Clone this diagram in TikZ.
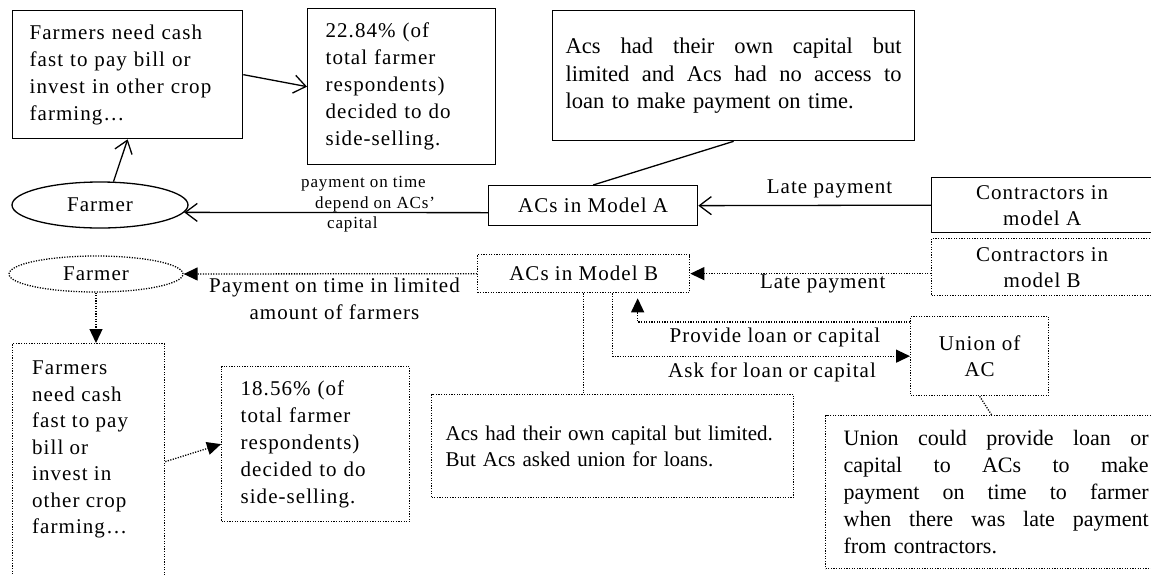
\documentclass[tikz,border=0pt]{standalone}
\usepackage{fontspec}
\setmainfont{Liberation Serif}
\newfontfamily\trk[LetterSpace=5]{Liberation Serif}
\usetikzlibrary{shapes.geometric,arrows.meta,calc}
\newcommand{\jline}[2]{\leavevmode\hbox to #1{\spaceskip=0pt\xspaceskip=0pt\relax #2}}
\begin{document}
\begin{tikzpicture}[x=1pt,y=-1pt,
  sol/.style={draw, line width=1.3pt},
  dotl/.style={draw, line width=1.3pt, dash pattern=on 1.2pt off 1.4pt},
  tk/.style={font=\fontsize{21}{27}\selectfont\trk},
  bx/.style={anchor=north west, inner ysep=0pt, align=left},
  bxc/.style={anchor=north west, inner sep=0pt, align=center},
  oarr/.style={-{Straight Barb[length=12pt,width=18pt]}},
  farr/.style={-{Triangle[length=14pt,width=13pt]}},
]
\useasboundingbox (0,0) rectangle (1151,574);

% ---- Model A ----
\node[sol, bx, tk, minimum width=230pt, minimum height=128pt, text width=196pt, inner xsep=17pt] (n1) at (12,10)
  {Farmers need cash\\fast to pay bill or\\invest in other crop\\farming\ldots};
\node[sol, bx, tk, minimum width=188pt, minimum height=156pt, text width=152pt, inner xsep=18pt] (n2) at (307,8)
  {22.84\% (of\\total farmer\\respondents)\\decided to do\\side-selling.};
\node[sol, bx, font=\fontsize{22.5}{27.5}\selectfont, minimum width=362pt, minimum height=130pt, text width=336pt, inner xsep=13pt] (n3) at (552,10)
  {\jline{336pt}{Acs had their own capital but}\\\jline{336pt}{limited and Acs had no access to}\\loan to make payment on time.};
\node[sol, ellipse, tk, minimum width=176pt, minimum height=46pt, inner sep=0pt] (n4) at (100,205) {Farmer};
\node[sol, bxc, tk, minimum width=209pt, minimum height=40pt] (n5) at (488,185) {ACs in Model A};
\node[sol, bxc, tk, minimum width=221pt, minimum height=55pt, font=\fontsize{21}{26}\selectfont\trk] (n6) at (931,177) {Contractors in\\model A};
\node[anchor=north west, inner sep=0pt, align=left, font=\fontsize{17}{20.5}\selectfont\trk] (n15) at (301,176.5)
  {payment on time\\\hspace*{14pt}depend on ACs’\\\hspace*{26pt}capital};

\draw[sol, oarr] (n1.east) -- (n2.west);
\draw[sol, oarr] (n4.60) -- (n1.south);
\draw[sol, oarr] ($(n5.west)+(0,7)$) -- (n4.-5);
\draw[sol] (n3.south) -- (n5.north);
\draw[sol, oarr] (n6.west) -- node[pos=0.436, above=7pt, inner sep=0pt, tk] {Late payment} (n5.east);

% ---- Model B ----
\node[dotl, bxc, tk, minimum width=221pt, minimum height=57pt, font=\fontsize{21}{26}\selectfont\trk] (n7) at (931,238) {Contractors in\\model B};
\node[dotl, bxc, tk, minimum width=212pt, minimum height=38pt] (n8) at (477,254) {ACs in Model B};
\node[dotl, ellipse, tk, minimum width=174pt, minimum height=36pt, inner sep=0pt] (n9) at (96,274) {Farmer};
\node[dotl, anchor=north west, minimum width=152pt, minimum height=236pt, inner sep=0pt] (n10) at (12,343) {};
\node[anchor=north west, inner sep=0pt, align=left, font=\fontsize{21}{26.5}\selectfont\trk] (n10t) at (32,361)
  {Farmers\\need cash\\fast to pay\\bill or\\invest in\\other crop\\farming\ldots};
\node[dotl, bx, tk, minimum width=188pt, minimum height=155pt, text width=150pt, inner xsep=19pt] (n11) at (221,366)
  {18.56\% (of\\total farmer\\respondents)\\decided to do\\side-selling.};
\node[dotl, bx, font=\fontsize{21}{26}\selectfont, minimum width=362pt, minimum height=103pt, text width=334pt, inner xsep=14pt] (n12) at (431,394)
  {Acs had their own capital but limited.\\But Acs asked union for loans.};
\node[dotl, bxc, tk, minimum width=138pt, minimum height=79pt, font=\fontsize{21}{26}\selectfont\trk] (n13) at (910,316) {Union of\\AC};
\node[dotl, bx, font=\fontsize{22}{27}\selectfont, minimum width=341pt, minimum height=153pt, text width=305pt, inner xsep=18pt] (n14) at (825,415)
  {\jline{305pt}{Union could provide loan or}\\\jline{305pt}{capital to ACs to make}\\\jline{305pt}{payment on time to farmer}\\\jline{305pt}{when there was late payment}\\from contractors.};

\draw[dotl, farr] (n8.east -| n7.west) -- node[pos=0.45, below=0.5pt, inner sep=0pt, tk] {Late payment} (n8.east);
\draw[dotl, farr] (n8.west) -- node[pos=0.486, below=3pt, inner sep=0pt, tk, align=center] {Payment on time in limited\\amount of farmers} (n9.east);
\draw[dotl, farr] (n9.south) -- (n9.south |- n10.north);
\draw[dotl, farr] (n10.east) -- (n11.west);
\draw[dotl] (n8.south) -- (n8.south |- n12.north);
\draw[dotl, farr] ($(n8.south)+(29,0)$) |- node[pos=0.768, below=5.5pt, inner sep=0pt, tk] {Ask for loan or capital} (n13.west);
\draw[dotl, farr] ($(n13.north west)+(0,6)$) -| node[pos=0.248, below=5pt, inner sep=0pt, tk] {Provide loan or capital} ($(n8.south)+(54,5)$);
\draw[dotl] (n13.south) -- ([xshift=12pt]n13.south |- n14.north);
\end{tikzpicture}
\end{document}
